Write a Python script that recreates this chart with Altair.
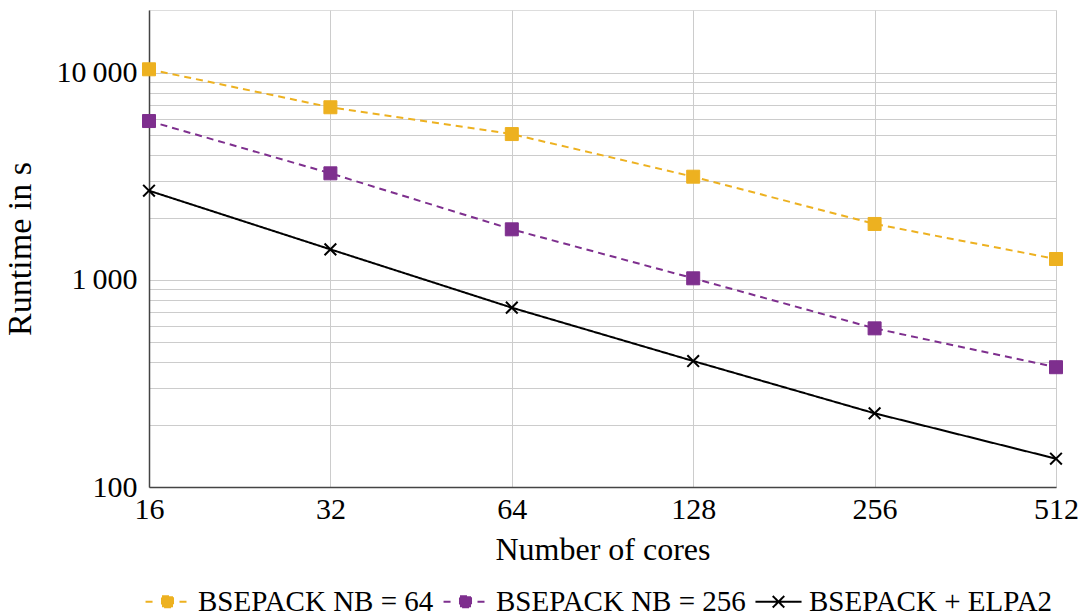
import altair as alt
import pandas as pd

cores = [16, 32, 64, 128, 256, 512]
nb64 = [10420, 6830, 5070, 3155, 1865, 1263]
nb256 = [5860, 3276, 1757, 1019, 584, 379]
elpa2 = [2700, 1406, 735, 406, 227, 137]
series_names = ["BSEPACK NB = 64", "BSEPACK NB = 256", "BSEPACK + ELPA2"]
series_colors = ["#EDB120", "#7E2F8E", "#000000"]
x_ticks = [16, 32, 64, 128, 256, 512]
y_grid = [100, 200, 300, 400, 500, 600, 700, 800, 900,
          1000, 2000, 3000, 4000, 5000, 6000, 7000, 8000, 9000, 10000]

rows = []
for name, vals in zip(series_names, [nb64, nb256, elpa2]):
    for c, v in zip(cores, vals):
        rows.append({"cores": c, "runtime": v, "series": name})
df = pd.DataFrame(rows)

FONT = "Liberation Serif"
SQ = "M-1,-1H1V1H-1Z"
XM = "M-0.9,-0.9L0.9,0.9M-0.9,0.9L0.9,-0.9"
LEG_SQ = "M-1.83,0H-1.0M1.0,0H1.83M-0.46,-0.46H0.46V0.46H-0.46Z"
LEG_X = "M-1.92,0H1.92M-0.48,-0.48L0.48,0.48M-0.48,0.48L0.48,-0.48"

xscale = alt.Scale(type="log", base=2, domain=[16, 512], nice=False)
yscale = alt.Scale(type="log", domain=[100, 20150], nice=False)
cscale = alt.Scale(domain=series_names, range=series_colors)
sscale = alt.Scale(domain=series_names, range=series_colors)

xenc = alt.X("cores:Q", scale=xscale,
             axis=alt.Axis(values=x_ticks, title="Number of cores", format="d",
                           grid=True, gridColor="#cccccc", gridWidth=1,
                           tickSize=0, labelPadding=7, labelFontSize=30,
                           titleFontSize=32, titlePadding=10, labelFont=FONT,
                           titleFont=FONT, titleFontWeight="normal",
                           domainColor="#444444", domainWidth=1.5,
                           labelColor="black", titleColor="black",
                           labelFlush=False, labelOverlap=False))
yenc = alt.Y("runtime:Q", scale=yscale,
             axis=alt.Axis(values=y_grid, title="Runtime in s",
                           labelExpr="datum.value == 10000 ? '10\u2009000' : datum.value == 1000 ? '1\u2009000' : datum.value == 100 ? '100' : ''",
                           grid=True, gridColor="#cccccc", gridWidth=1,
                           tickSize=0, labelPadding=12, labelFontSize=30,
                           titleFontSize=34, titlePadding=18, labelFont=FONT,
                           titleFont=FONT, titleFontWeight="normal",
                           domainColor="#444444", domainWidth=1.5,
                           labelColor="black", titleColor="black",
                           labelOverlap=False, labelFlush=False))

lines = alt.Chart(df).mark_line(strokeWidth=2).encode(
    x=xenc, y=yenc,
    color=alt.Color("series:N", scale=cscale),
    strokeDash=alt.StrokeDash("series:N",
                              scale=alt.Scale(domain=series_names, range=[[7, 5], [7, 5], [1, 0]]),
                              legend=None),
    detail="series:N",
)

squares = alt.Chart(df).transform_filter(
    alt.datum.series != series_names[2]
).mark_point(filled=True, size=169, strokeWidth=1, opacity=1, shape=SQ).encode(
    x=xenc, y=yenc,
    color=alt.Color("series:N", scale=cscale),
    stroke=alt.Stroke("series:N", scale=sscale),
)

crosses = alt.Chart(df).transform_filter(
    alt.datum.series == series_names[2]
).mark_point(filled=False, size=169, strokeWidth=2, opacity=1, shape=XM).encode(
    x=xenc, y=yenc,
    stroke=alt.Stroke("series:N", scale=sscale),
)

legend = alt.Legend(
    title=None, orient="none", legendX=4, legendY=577, direction="horizontal",
    symbolSize=576, labelFont=FONT, labelFontSize=29, labelColor="black",
    labelOffset=16, columnPadding=5, padding=0, symbolStrokeWidth=2,
    symbolOpacity=1, labelLimit=0,
)

legend_layer = alt.Chart(df).transform_filter("false").mark_point(
    filled=True, size=576, strokeWidth=2, opacity=1).encode(
    x=xenc, y=yenc,
    color=alt.Color("series:N", scale=cscale, legend=legend),
    stroke=alt.Stroke("series:N", scale=sscale, legend=legend),
    shape=alt.Shape("series:N", scale=alt.Scale(domain=series_names, range=[LEG_SQ, LEG_SQ, LEG_X]),
                    legend=legend),
)

chart = alt.layer(legend_layer, lines, squares, crosses).properties(
    width=907, height=477,
    autosize=alt.AutoSizeParams(type="none"),
    padding={"left": 149, "top": 10, "right": 24, "bottom": 128},
).configure_view(stroke=None).configure(background="white")

chart.save("out.html", embed_options={"renderer": "svg", "actions": False})
